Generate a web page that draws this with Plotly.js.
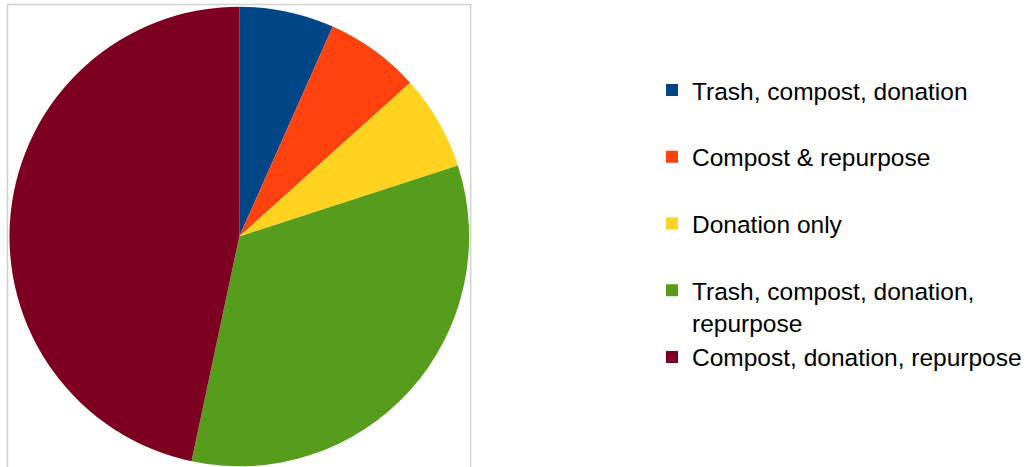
<!DOCTYPE html>
<html>
<head>
<meta charset="utf-8">
<script src="https://cdn.plot.ly/plotly-3.0.1.min.js"></script>
<style>
  html, body { margin: 0; padding: 0; background: #ffffff; }
  #chart { width: 1027px; height: 467px; }
</style>
</head>
<body>
<div id="chart"></div>
<script>
// ---- data ----
const categories = [
  "Trash, compost, donation",
  "Compost & repurpose",
  "Donation only",
  "Trash, compost, donation,<br>repurpose",
  "Compost, donation, repurpose"
];
const values = [1, 1, 1, 5, 7];
const colors = ["#004586", "#ff420e", "#ffd320", "#579d1c", "#7e0021"];

// legend labels: every entry occupies two lines so entries are evenly spaced
const legendLabels = categories.map(c => c.indexOf("<br>") >= 0 ? c : c + "<br>\u00a0");

const W = 1027, H = 467;
const cx = 240, cy = 236.5, r = 230.5;

const trace = {
  type: "pie",
  labels: legendLabels,
  values: values,
  sort: false,
  direction: "clockwise",
  rotation: 0,
  textinfo: "none",
  hoverinfo: "label+value+percent",
  marker: { colors: colors, line: { width: 0 } },
  domain: {
    x: [(cx - r) / W, (cx + r) / W],
    y: [(H - (cy + r)) / H, (H - (cy - r)) / H]
  }
};

const layout = {
  width: W,
  height: H,
  margin: { l: 0, r: 0, t: 0, b: 0, pad: 0 },
  paper_bgcolor: "#ffffff",
  plot_bgcolor: "#ffffff",
  showlegend: true,
  legend: {
    x: 654 / W,
    xanchor: "left",
    y: 1 - 67.7 / H,
    yanchor: "top",
    valign: "top",
    bgcolor: "rgba(0,0,0,0)",
    borderwidth: 0,
    font: { family: "Liberation Sans, Arial, sans-serif", size: 24.5, color: "#000000" }
  },
  shapes: [{
    type: "rect",
    xref: "paper", yref: "paper",
    x0: 7.5 / W, x1: 472 / W,
    y0: -0.05, y1: (H - 4.5) / H,
    line: { color: "#d0d0d0", width: 1.5 },
    fillcolor: "rgba(0,0,0,0)",
    layer: "below"
  }]
};

Plotly.newPlot("chart", [trace], layout, { displayModeBar: false, staticPlot: true });
</script>
</body>
</html>
